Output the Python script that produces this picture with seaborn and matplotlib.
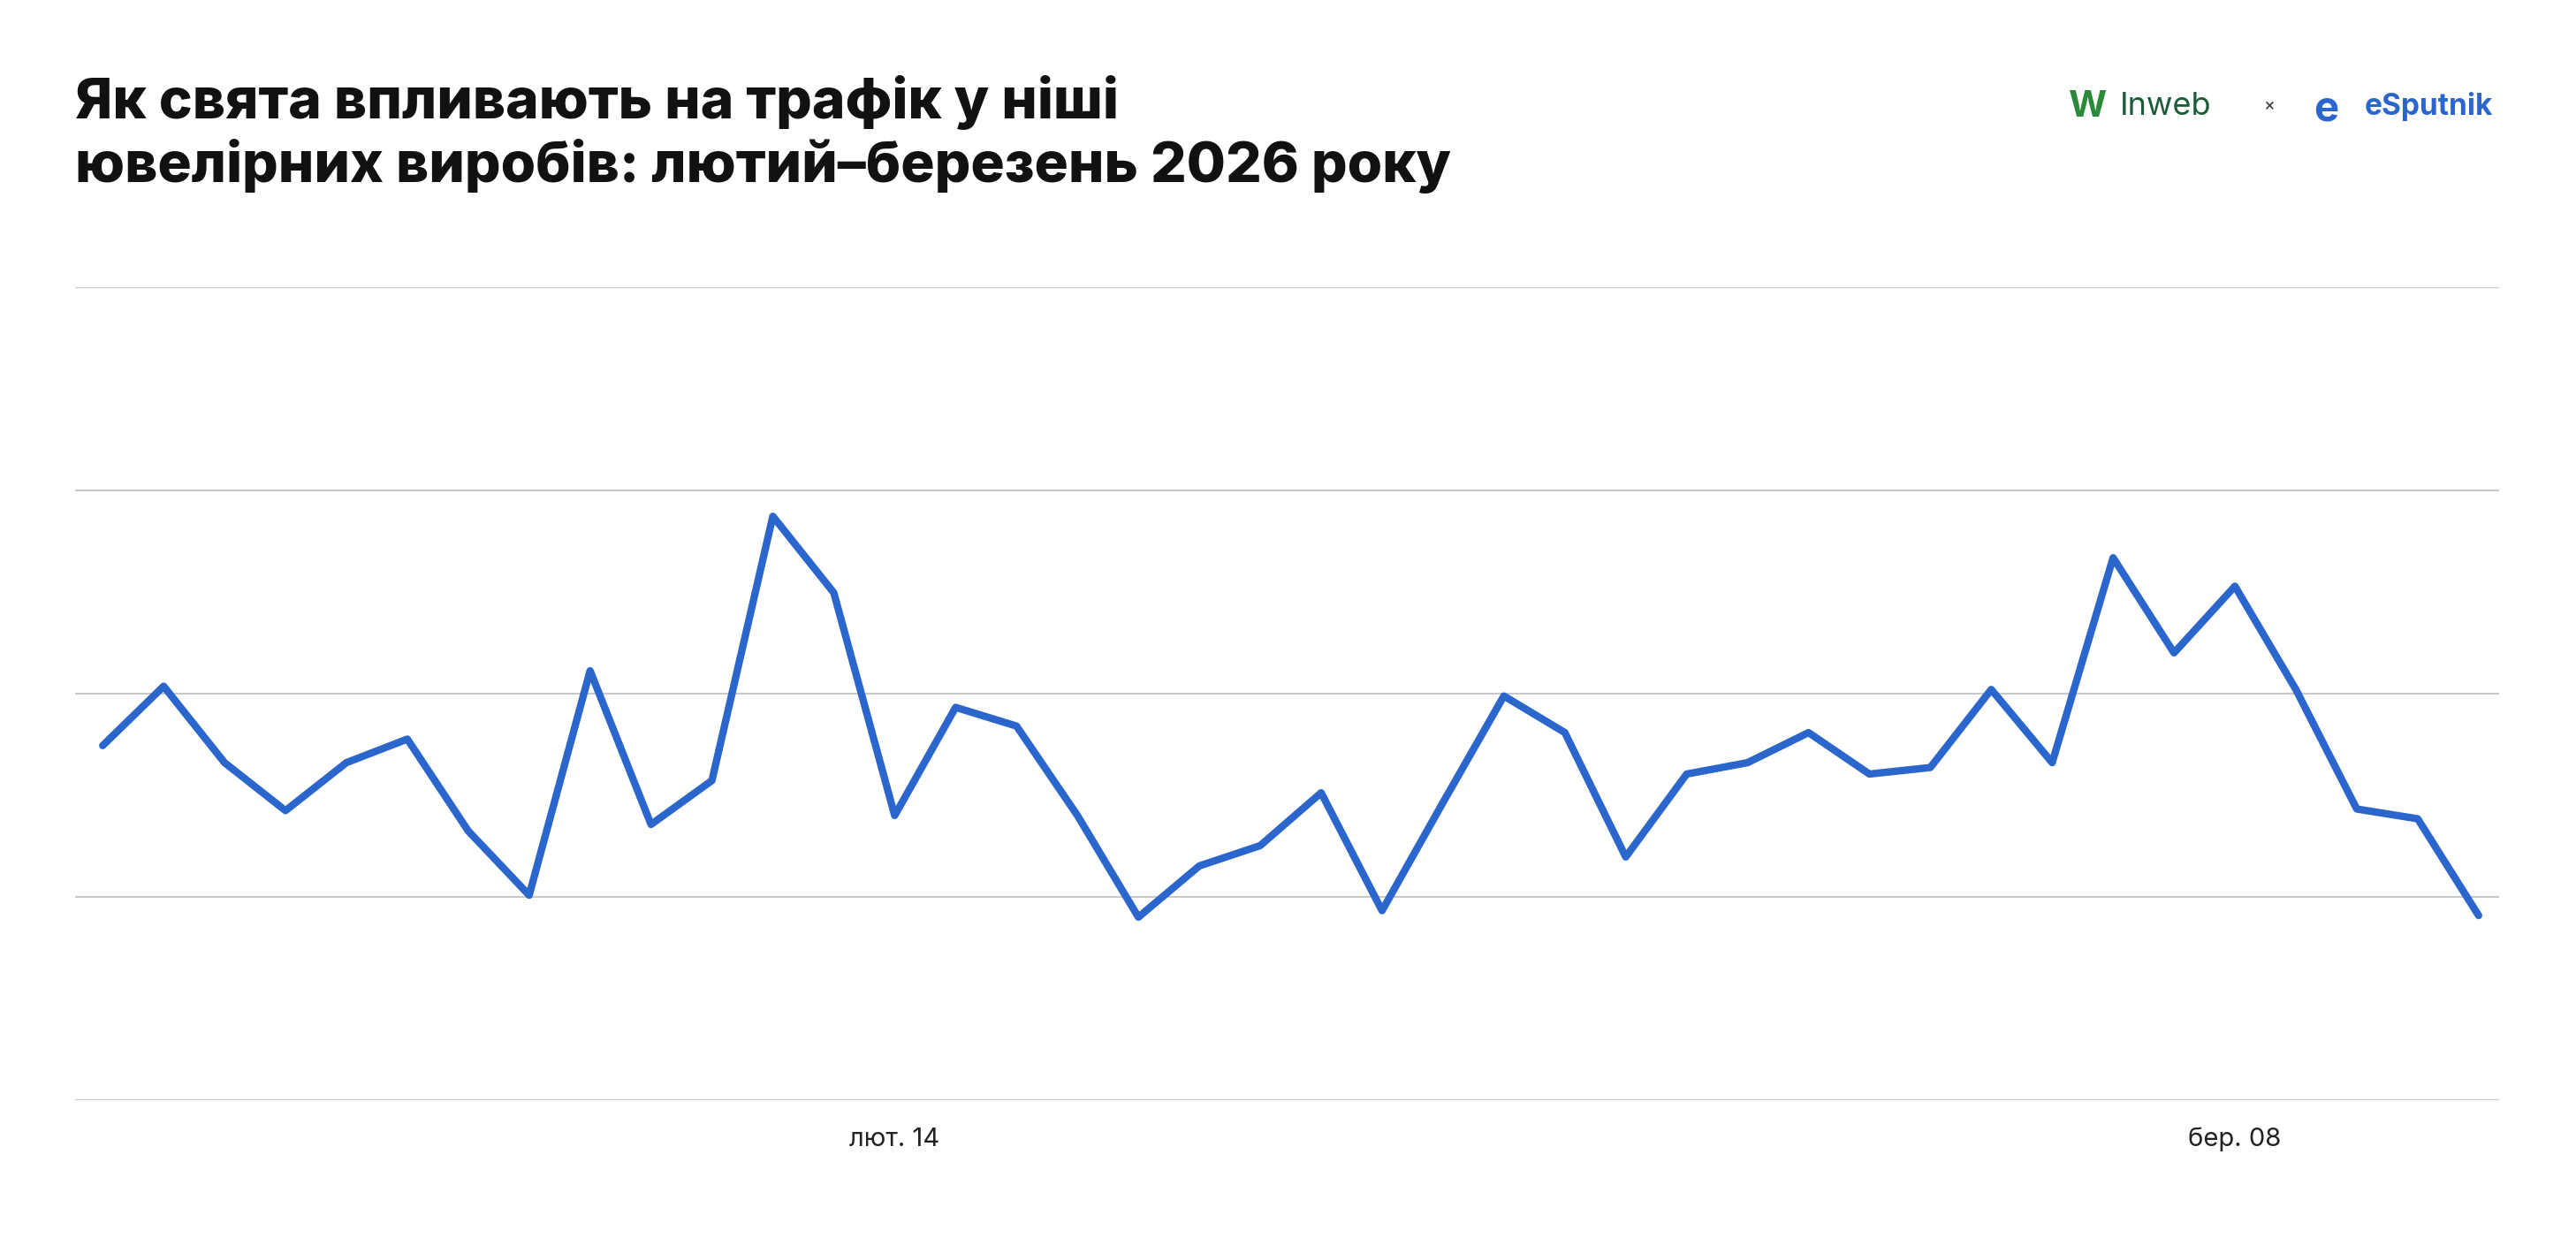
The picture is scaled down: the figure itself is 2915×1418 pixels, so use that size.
import matplotlib
matplotlib.use("Agg")
import matplotlib.pyplot as plt
import seaborn as sns
import pandas as pd
import numpy as np

dates = pd.date_range("2026-02-01", periods=40, freq="D")
values = [43.6, 50.9, 41.5, 35.6, 41.5, 44.4, 33.1, 25.2, 52.8, 33.9,
          39.3, 71.8, 62.4, 35.0, 48.3, 46.0, 35.0, 22.5, 28.8, 31.3,
          37.8, 23.3, 36.6, 49.7, 45.2, 29.9, 40.1, 41.5, 45.2, 40.1,
          40.9, 50.5, 41.5, 66.7, 55.0, 63.2, 50.5, 35.8, 34.6, 22.7]
tick_idx = [13, 35]
tick_labels = ["лют. 14", "бер. 08"]
title = "Як свята впливають на трафік у ніші\nювелірних виробів: лютий–березень 2026 року"

sns.set_style("white")
plt.rcParams["font.family"] = ["Inter", "DejaVu Sans"]

df = pd.DataFrame({"i": np.arange(len(values)), "v": values})
fig = plt.figure(figsize=(29.15, 14.18), dpi=100)
ax = fig.add_axes([0.029, 0.122, 0.941, 0.649])
sns.lineplot(data=df, x="i", y="v", ax=ax, color="#2b66cc", linewidth=6)
ax.set_xlim(-0.46, 39.33)
ax.set_ylim(0, 100)
ax.set_yticks([0, 25, 50, 75, 100])
ax.yaxis.grid(True, color="#c8c8c8", linewidth=1.5)
ax.set_yticklabels([])
ax.tick_params(axis="y", length=0)
ax.set_xticks(tick_idx)
ax.set_xticklabels(tick_labels, fontsize=21, color="#222222")
ax.tick_params(axis="x", length=0, pad=22)
ax.set_xlabel(""); ax.set_ylabel("")
for s in ["top", "left", "right", "bottom"]:
    ax.spines[s].set_visible(False)

fig.text(0.029, 0.94, title, fontsize=46, fontweight="heavy", va="top",
         ha="left", color="#111111", linespacing=1.2)
fig.text(0.823, 0.915, "Inweb", fontsize=26, color="#1d5c3a", va="center", ha="left")
fig.text(0.803, 0.915, "W", fontsize=30, fontweight="bold", color="#2a8a3a", va="center", ha="left")
fig.text(0.881, 0.915, "×", fontsize=14, color="#333333", va="center", ha="center")
fig.text(0.898, 0.912, "e", fontsize=34, fontweight="bold", color="#2b66cc", va="center", ha="left")
fig.text(0.918, 0.915, "eSputnik", fontsize=24, fontweight="bold", color="#2b66cc", va="center", ha="left")

fig.savefig("out.png", dpi=100, facecolor="white")
